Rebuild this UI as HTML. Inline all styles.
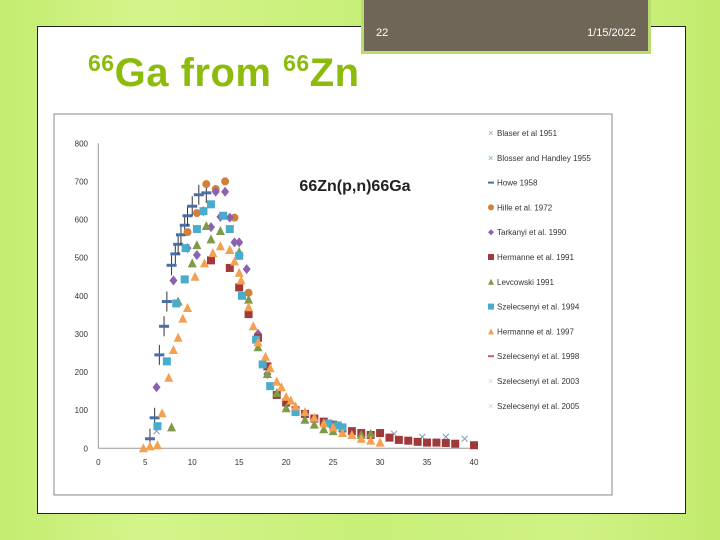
<!DOCTYPE html>
<html><head><meta charset="utf-8"><style>
body{margin:0;width:720px;height:540px;overflow:hidden;font-family:"Liberation Sans",sans-serif;
background:linear-gradient(90deg,#c4ec70 0%,#d4f48a 20%,#c8ef78 50%,#d0f285 80%,#c2ea6c 100%);position:relative}
#panel{position:absolute;left:37px;top:26px;width:647px;height:486px;background:#fff;border:1px solid #222}
#hdr{position:absolute;left:361px;top:-4px;width:284px;height:52px;background:#6f6657;border:3px solid #b9dc6e;color:#fff;font-size:11px}
#title{position:absolute;left:88px;top:50px;font-size:40px;font-weight:bold;color:#8cbb0c;letter-spacing:0.5px}
#title sup{font-size:23px;vertical-align:15px}
svg{position:absolute;left:0;top:0}
</style></head><body>
<div id="panel"></div>
<div id="hdr">
<span style="position:absolute;left:12px;top:28px">22</span>
<span style="position:absolute;right:12px;top:28px">1/15/2022</span></div>
<div id="title"><sup>66</sup>Ga from <sup>66</sup>Zn</div>
<svg id="chart" width="720" height="540"></svg>
<script>
const xTicks=[0,5,10,15,20,25,30,35,40];
const yTicks=[0,100,200,300,400,500,600,700,800];
const legendLabels=["Blaser et al 1951","Blosser and Handley 1955","Howe 1958","Hille et al. 1972","Tarkanyi et al. 1990","Hermanne et al. 1991","Levcowski 1991","Szelecsenyi et al. 1994","Hermanne et al. 1997","Szelecsenyi et al. 1998","Szelecsenyi et al. 2003","Szelecsenyi et al. 2005"];
const blaserX=[6.2,31.5,34.5,37,39];const blaserY=[45,38,30,30,25];
const howeX=[5.5,6,6.5,7,7.3,7.8,8.2,8.5,8.8,9.2,9.5,10,10.7,11.5];
const howeY=[25,80,245,320,385,480,510,535,560,585,610,635,665,670];
const hilleX=[9.5,10.5,11.5,12.5,13.5,14.5,15,16];
const hilleY=[567,617,693,680,700,605,505,408];
const tarkX=[6.2,8,9.5,10.5,11.2,12,12.5,13,13.5,14,14.5,15,15.8,17,18];
const tarkY=[160,440,525,507,622,580,673,607,673,605,540,540,470,300,195];
const herm91X=[12,14,15,16,17,18,19,20,21,22,23,24,25,26,27,28,29,30,31,32,33,34,35,36,37,38,40];
const herm91Y=[493,473,422,352,290,215,140,120,100,90,78,70,62,52,45,40,35,40,28,22,20,17,15,15,14,12,8];
const levX=[7.8,8.5,10,10.5,11.5,12,13,14,15,16,17,18,19,20,21,22,23,24,25,28,29];
const levY=[55,385,485,533,583,548,570,520,515,390,265,195,145,105,100,75,62,50,45,35,38];
const sz94X=[6.3,7.3,8.3,9.2,9.3,10.5,11.2,12,13.3,14,15,15.3,16.8,17.5,18.3,21,24.5,25.5,26];
const sz94Y=[58,228,380,443,525,575,622,640,610,575,505,400,285,220,163,95,65,60,55];
const herm97X=[4.8,5.5,6.3,6.8,7.5,8,8.5,9,9.5,10.3,11.3,12.2,13,14,14.5,15,15.2,16,16.5,17,17.8,18.3,19,19.5,20,20.5,21,22,23,24,25,26,27,28,29,30];
const herm97Y=[0,5,8,92,185,258,290,340,368,450,485,512,530,520,490,460,440,370,320,278,240,210,175,160,135,125,110,95,80,65,55,40,35,25,20,15];
const NS="http://www.w3.org/2000/svg",svg=document.getElementById('chart');
const X=v=>98.3+v*(474-98.3)/40, Y=v=>448.3-v*(448.3-143.3)/800;
function el(t,a,p){const e=document.createElementNS(NS,t);for(const k in a)e.setAttribute(k,a[k]);(p||svg).appendChild(e);return e;}
const frame=el('rect',{x:54,y:114,width:558,height:381,fill:'#fff',stroke:'#888'});


const ax=el('line',{x1:98.3,y1:448.3,x2:474,y2:448.3,stroke:'#999'});


const ay=el('line',{x1:98.3,y1:448.3,x2:98.3,y2:143.3,stroke:'#999'});


xTicks.forEach(t=>{const e=el('text',{x:X(t),y:465,'font-size':8,'text-anchor':'middle',fill:'#333'});e.textContent=t;

});
yTicks.forEach(t=>{const e=el('text',{x:88,y:Y(t)+3,'font-size':8,'text-anchor':'end',fill:'#333'});e.textContent=t;

});
const ct=el('text',{x:355,y:191,'font-size':16,'font-weight':'bold','text-anchor':'middle',fill:'#222'});ct.textContent='66Zn(p,n)66Ga';


function mark(type,color,x,y){
 const cx=X(x),cy=Y(y);let e;
 if(type==='x'){e=el('path',{d:`M${cx-3},${cy-3}L${cx+3},${cy+3}M${cx-3},${cy+3}L${cx+3},${cy-3}`,stroke:color,'stroke-width':1});}
 else if(type==='dash'){el('line',{x1:cx,y1:cy-10,x2:cx,y2:cy+10,stroke:'#333','stroke-width':1});e=el('rect',{x:cx-5,y:cy-1.5,width:10,height:3,fill:color});}
 else if(type==='circle')e=el('circle',{cx,cy,r:4,fill:color});
 else if(type==='diamond')e=el('path',{d:`M${cx},${cy-5}L${cx+4},${cy}L${cx},${cy+5}L${cx-4},${cy}Z`,fill:color});
 else if(type==='square')e=el('rect',{x:cx-4,y:cy-4,width:8,height:8,fill:color});
 else if(type==='tri')e=el('path',{d:`M${cx},${cy-5}L${cx+4.5},${cy+4}L${cx-4.5},${cy+4}Z`,fill:color});
 return e;}
const series=[['x','#8a9ab8',blaserX,blaserY],['dash','#4a6fa8',howeX,howeY],['circle','#d0803a',hilleX,hilleY],['diamond','#8a62b0',tarkX,tarkY],['square','#a03a3a',herm91X,herm91Y],['tri','#7f9a48',levX,levY],['square','#4aaccc',sz94X,sz94Y],['tri','#f4a050',herm97X,herm97Y]];
series.forEach(s=>s[2].forEach((x,i)=>{const m=mark(s[0],s[1],x,s[3][i]);

}));
const lTypes=['x','x','dash','circle','diamond','square','tri','square','tri','dash','x','x'];
const lCols=['#999','#6aa','#4a6fa8','#d0803a','#8a62b0','#a03a3a','#7f9a48','#4aaccc','#f4a050','#c06060','#ccc','#ccc'];
legendLabels.forEach((l,i)=>{const y=133+i*24.8;const g=el('g',{});


const cx=491;
if(lTypes[i]==='x')el('text',{x:cx-3,y:y+3,'font-size':9,fill:lCols[i]},g).textContent='×';
else if(lTypes[i]==='dash')el('rect',{x:cx-3,y:y-1,width:6,height:2,fill:lCols[i]},g);
else if(lTypes[i]==='circle')el('circle',{cx,cy:y,r:3,fill:lCols[i]},g);
else if(lTypes[i]==='diamond')el('path',{d:`M${cx},${y-3}L${cx+3},${y}L${cx},${y+3}L${cx-3},${y}Z`,fill:lCols[i]},g);
else if(lTypes[i]==='square')el('rect',{x:cx-3,y:y-3,width:6,height:6,fill:lCols[i]},g);
else el('path',{d:`M${cx},${y-3}L${cx+3},${y+3}L${cx-3},${y+3}Z`,fill:lCols[i]},g);
el('text',{x:497,y:y+3,'font-size':8,fill:'#333'},g).textContent=l;});
</script>
</body></html>
